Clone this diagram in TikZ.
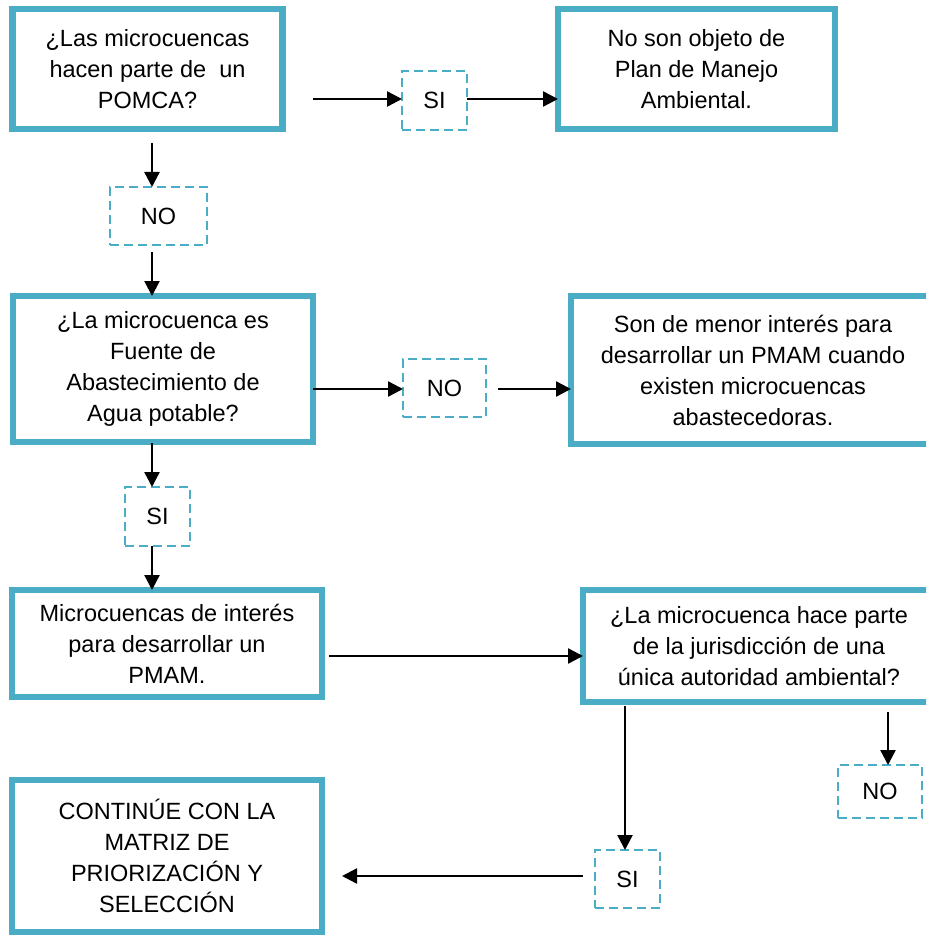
\documentclass[tikz,border=0pt]{standalone}
\usepackage{fontspec}
\setmainfont{Liberation Sans}
\usetikzlibrary{arrows.meta}
\definecolor{frame}{RGB}{75,172,198}
\tikzset{
  box/.style={draw=frame, line width=6.5pt, rectangle, inner sep=0pt, outer sep=0pt,
    align=center, font=\fontsize{23.5}{31}\selectfont, fill=white},
  answer/.style={draw=frame, line width=2.4pt, dash pattern=on 9pt off 5pt, rectangle,
    inner sep=0pt, outer sep=0pt, font=\fontsize{23.5}{28}\selectfont},
  flow/.style={draw=black, line width=2.4pt, -{Triangle[length=15pt,width=15pt]}},
}
\begin{document}
\begin{tikzpicture}[x=1pt,y=-1pt]
\clip (0,0) rectangle (926,936);
\fill[white] (0,0) rectangle (926,936);

% decision and result boxes
\node[box, minimum width=270pt, minimum height=120pt] (b1) at (147.5,69)
  {¿Las microcuencas\\hacen parte de\ \ un\\POMCA?};
\node[box, minimum width=277pt, minimum height=120pt] (b2) at (696.5,69)
  {No son objeto de\\Plan de Manejo\\Ambiental.};
\node[box, minimum width=300pt, minimum height=146pt] (b3) at (163,369)
  {¿La microcuenca es\\Fuente de\\Abastecimiento de\\Agua potable?};
\node[box, minimum width=364pt, minimum height=148pt] (b4) at (753,370)
  {Son de menor interés para\\desarrollar un PMAM cuando\\existen microcuencas\\abastecedoras.};
\node[box, minimum width=310pt, minimum height=107pt] (b5) at (167,643.5)
  {Microcuencas de interés\\para desarrollar un\\PMAM.};
\node[box, minimum width=352pt, minimum height=112pt] (b6) at (759,646)
  {¿La microcuenca hace parte\\de la jurisdicción de una\\única autoridad ambiental?};
\node[box, minimum width=310pt, minimum height=152pt] (b7) at (167,856)
  {CONTINÚE CON LA\\MATRIZ DE\\PRIORIZACIÓN Y\\SELECCIÓN};

% answer labels
\node[answer, minimum width=65pt, minimum height=59pt] (si1) at (434.5,100.5) {SI};
\node[answer, minimum width=97pt, minimum height=58pt] (no1) at (158.5,216) {NO};
\node[answer, minimum width=83pt, minimum height=58pt] (no2) at (444.5,388) {NO};
\node[answer, minimum width=65pt, minimum height=59pt] (si2) at (157.5,516.5) {SI};
\node[answer, minimum width=84pt, minimum height=53pt] (no3) at (880,791.5) {NO};
\node[answer, minimum width=65pt, minimum height=58pt] (si3) at (627.5,879) {SI};

% free ends of the connectors
\coordinate (c1) at (313,99);
\coordinate (c2) at (152,143);
\coordinate (c3) at (152,252);
\coordinate (c4) at (313,389);
\coordinate (c5) at (498,389);
\coordinate (c6) at (152,443);
\coordinate (c7) at (152,546);
\coordinate (c8) at (329,656);
\coordinate (c9) at (625,706);
\coordinate (c10) at (888,712);
\coordinate (c11) at (583,876);
\coordinate (c12) at (342,876);

% connectors
\draw[flow] (c1) -- (c1 -| si1.west);
\draw[flow] (si1.east |- c1) -- (c1 -| b2.west);
\draw[flow] (c2) -- (c2 |- no1.north);
\draw[flow] (c3) -- (c3 |- b3.north);
\draw[flow] (c4) -- (c4 -| no2.west);
\draw[flow] (c5) -- (c5 -| b4.west);
\draw[flow] (c6) -- (c6 |- si2.north);
\draw[flow] (c7) -- (c7 |- b5.north);
\draw[flow] (c8) -- (c8 -| b6.west);
\draw[flow] (c9) -- (c9 |- si3.north);
\draw[flow] (c10) -- (c10 |- no3.north);
\draw[flow] (c11) -- (c12);
\end{tikzpicture}
\end{document}
